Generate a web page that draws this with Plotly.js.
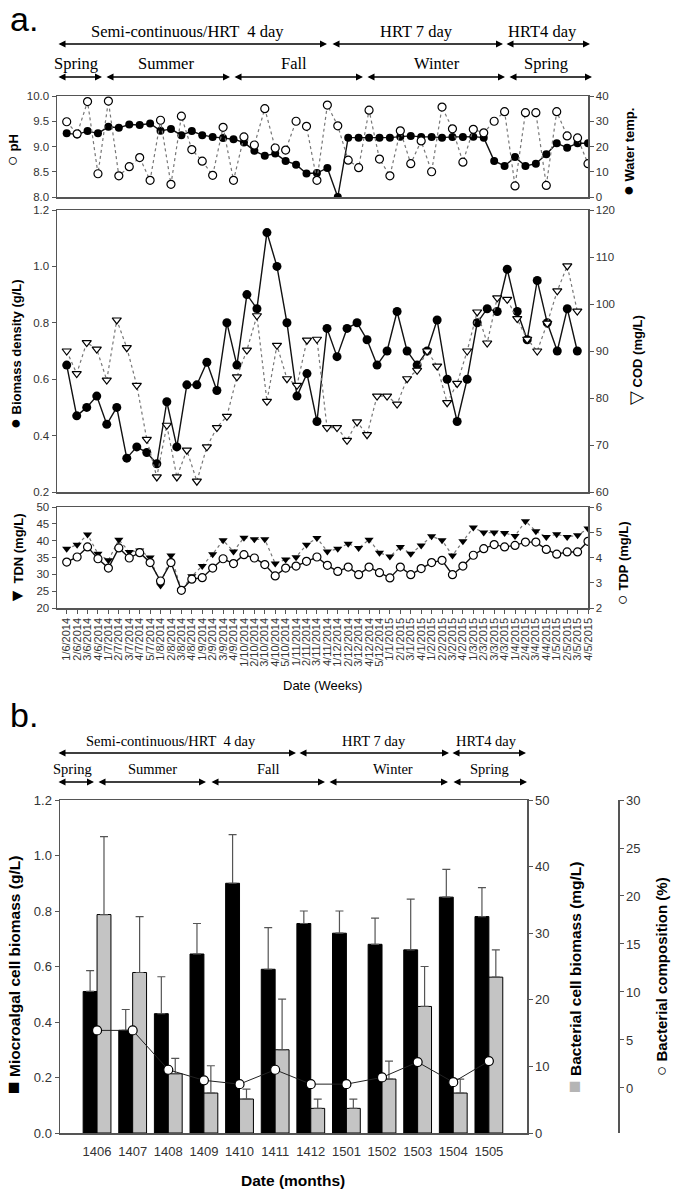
<!DOCTYPE html>
<html>
<head>
<meta charset="utf-8">
<script src="https://cdn.plot.ly/plotly-3.0.1.min.js"></script>
<style>
  html, body { margin: 0; padding: 0; background: #fff; }
  #chart { width: 675px; height: 1190px; }
</style>
</head>
<body>
<div id="chart"></div>
<script>
// ---- panel a: weekly samples ----
const weeks = [
  '1/6/2014', '2/6/2014', '3/6/2014', '4/6/2014', '1/7/2014', '2/7/2014', '3/7/2014', '4/7/2014', '5/7/2014',
  '1/8/2014', '2/8/2014', '3/8/2014', '4/8/2014', '1/9/2014', '2/9/2014', '3/9/2014', '4/9/2014',
  '1/10/2014', '2/10/2014', '3/10/2014', '4/10/2014', '5/10/2014', '1/11/2014', '2/11/2014', '3/11/2014', '4/11/2014',
  '1/12/2014', '2/12/2014', '3/12/2014', '4/12/2014', '5/12/2014', '1/1/2015', '2/1/2015', '3/1/2015', '4/1/2015',
  '1/2/2015', '2/2/2015', '3/2/2015', '4/2/2015', '1/3/2015', '2/3/2015', '3/3/2015', '4/3/2015',
  '1/4/2015', '2/4/2015', '3/4/2015', '4/4/2015', '1/5/2015', '2/5/2015', '3/5/2015', '4/5/2015'
];
const pH = [
  9.49, 9.25, 9.89, 8.46, 9.90, 8.42, 8.60, 8.78, 8.33, 9.52, 8.25, 9.60, 8.94, 8.71, 8.43, 9.38, 8.33,
  9.19, 9.03, 9.75, 8.97, 8.93, 9.50, 9.40, 8.33, 9.82, 9.41, 8.73, 8.58, 9.72, 8.75, 8.42, 9.31, 8.66,
  9.11, 8.50, 9.78, 9.35, 8.69, 9.34, 9.27, 9.50, 9.69, 8.22, 9.67, 9.67, 8.23, 9.69, 9.21, 9.17, 8.66
];
const waterTemp = [
  25.2, 24.8, 26.1, 25.2, 27.8, 27.4, 28.7, 28.5, 29.1, 26.2, 26.9, 24.5, 26.1, 24.5, 23.8, 23.4, 22.9,
  21.6, 18.3, 16.3, 17.2, 14.3, 12.8, 9.3, 9.5, 11.5, 0, 23.5, 23.5, 23.5, 23.5, 23.5, 23.9, 24.2,
  23.8, 23.8, 23.5, 23.8, 23.8, 23.9, 23.5, 14.3, 12.3, 15.8, 12.3, 13.2, 16.9, 21.3, 19.5, 21.3, 21.3
];
// biomass and COD were sampled on their own (slightly denser) weekly grid
const biomass = [
  0.65, 0.47, 0.50, 0.54, 0.44, 0.50, 0.32, 0.36, 0.34, 0.30, 0.52, 0.36, 0.58, 0.58, 0.66, 0.56, 0.80,
  0.65, 0.90, 0.85, 1.12, 1.00, 0.80, 0.54, 0.62, 0.45, 0.78, 0.68, 0.78, 0.80, 0.74, 0.65, 0.70, 0.84,
  0.70, 0.65, 0.70, 0.81, 0.60, 0.45, 0.60, 0.80, 0.85, 0.84, 0.99, 0.84, 0.74, 0.95, 0.80, 0.70, 0.85, 0.70
];
const cod = [
  90.0, 85.2, 91.8, 90.4, 83.8, 96.6, 90.7, 82.7, 71.2, 63.2, 74.2, 63.2, 68.9, 62.3, 69.6, 73.7, 76.1,
  84.5, 90.2, 97.5, 79.3, 91.2, 84.1, 82.7, 92.3, 92.5, 73.7, 73.7, 71.0, 74.9, 72.2, 80.4, 80.4, 78.7,
  84.1, 85.9, 90.0, 86.8, 79.0, 83.1, 90.0, 98.3, 91.7, 101.3, 101.0, 96.9, 92.5, 90.0, 95.9, 102.8, 108.1, 98.5
];
const tdn = [
  37.6, 38.8, 41.8, 36.1, 34.2, 40.3, 36.6, 37.1, 35.0, 26.7, 35.6, 25.3, 29.4, 32.5, 36.0, 40.1, 36.8,
  40.9, 40.4, 40.4, 33.2, 34.4, 35.1, 38.8, 40.8, 36.8, 37.6, 39.1, 37.8, 40.3, 36.4, 35.3, 38.1, 36.1,
  38.6, 41.3, 40.1, 35.6, 39.8, 43.9, 42.4, 42.4, 42.3, 41.4, 45.8, 42.8, 41.1, 41.9, 41.1, 41.6, 43.6
];
const tdp = [
  3.82, 4.02, 4.42, 3.95, 3.58, 4.38, 3.98, 4.19, 3.80, 3.07, 3.80, 2.70, 3.14, 3.20, 3.58, 3.95, 3.76,
  4.11, 3.98, 3.72, 3.27, 3.58, 3.66, 3.85, 4.02, 3.69, 3.45, 3.62, 3.32, 3.62, 3.40, 3.19, 3.62, 3.32,
  3.56, 3.80, 3.89, 3.32, 3.66, 4.09, 4.35, 4.51, 4.42, 4.48, 4.61, 4.61, 4.32, 4.13, 4.22, 4.22, 4.64
];

// ---- panel b: monthly means ----
const months = ['1406', '1407', '1408', '1409', '1410', '1411', '1412', '1501', '1502', '1503', '1504', '1505'];
const algalBiomass = [0.51, 0.37, 0.43, 0.645, 0.90, 0.59, 0.755, 0.72, 0.68, 0.66, 0.85, 0.78];
const algalSd = [0.075, 0.075, 0.133, 0.11, 0.175, 0.15, 0.045, 0.08, 0.094, 0.183, 0.10, 0.104];
const bactBiomass = [32.8, 24.1, 8.9, 6.0, 5.1, 12.5, 3.7, 3.7, 8.1, 19.0, 6.0, 23.4];
const bactSd = [11.7, 8.4, 2.3, 4.1, 1.5, 7.6, 1.4, 1.4, 2.7, 6.0, 2.1, 4.1];
const bactComp = [6.0, 6.0, 1.9, 0.8, 0.4, 1.9, 0.4, 0.4, 1.1, 2.7, 0.6, 2.8];

// header bands
const phases = ['Semi-continuous/HRT  4 day', 'HRT 7 day', 'HRT4 day'];
const seasons = ['Spring', 'Summer', 'Fall', 'Winter', 'Spring'];

// ---- geometry helpers (figure pixels -> paper) ----
const W = 675, H = 1190;
const fx = p => p / W;
const fy = p => 1 - p / H;

const FONT = 'Arial, "Liberation Sans", sans-serif';
const SERIF = '"Times New Roman", "Liberation Serif", serif';
const LINE = '#555';

const base = {
    showline: true, linecolor: LINE, linewidth: 1.5,
    showgrid: false, zeroline: false,
    ticks: 'outside', ticklen: 4, tickcolor: LINE, tickwidth: 1,
    tickfont: { family: FONT, size: 11.5, color: '#333' },
};
const baseB = { ...base, tickfont: { family: FONT, size: 13, color: '#333' } };
const noTicks = { showticklabels: false, ticks: '' };

const DX = [fx(57), fx(588)];
const idx = arr => arr.map((_, i) => i);
const zeros = arr => arr.map(() => 0);

const filled = (size, symbol) => ({ size: size, symbol: symbol || 'circle', color: '#000' });
const hollow = (size, symbol) => ({ size: size, symbol: symbol || 'circle', color: '#fff', line: { color: '#000', width: 1.2 } });
const solid = { color: '#111', width: 1.4 };
const dotted = { color: '#777', width: 1.2, dash: 'dot' };

const traces = [
    // pH panel
    { x: weeks, y: waterTemp, xaxis: 'x', yaxis: 'y', mode: 'lines+markers', line: solid, marker: filled(8) },
    { x: weeks, y: pH, xaxis: 'x', yaxis: 'y2', mode: 'lines+markers', line: dotted, marker: hollow(8) },
    // biomass / COD panel
    { x: idx(biomass), y: biomass, xaxis: 'x2', yaxis: 'y3', mode: 'lines+markers', line: solid, marker: filled(9) },
    { x: idx(cod), y: cod, xaxis: 'x2', yaxis: 'y4', mode: 'lines+markers', line: dotted, marker: hollow(8, 'triangle-down') },
    // TDN / TDP panel
    { x: weeks, y: tdn, xaxis: 'x3', yaxis: 'y5', mode: 'lines+markers', line: dotted, marker: filled(8, 'triangle-down') },
    { x: weeks, y: tdp, xaxis: 'x3', yaxis: 'y6', mode: 'lines+markers', line: solid, marker: hollow(8) },
    // panel b bars
    {
        type: 'bar', x: months, y: algalBiomass, xaxis: 'x4', yaxis: 'y7',
        width: 0.39, offset: -0.39,
        marker: { color: '#000', line: { color: '#000', width: 1 } },
        error_y: { type: 'data', symmetric: false, array: algalSd, arrayminus: zeros(algalSd), color: '#555', thickness: 1.2, width: 4 },
    },
    {
        type: 'bar', x: months, y: bactBiomass, xaxis: 'x4', yaxis: 'y8',
        width: 0.39, offset: 0,
        marker: { color: '#c4c4c4', line: { color: '#000', width: 1 } },
        error_y: { type: 'data', symmetric: false, array: bactSd, arrayminus: zeros(bactSd), color: '#555', thickness: 1.2, width: 4 },
    },
    {
        x: months, y: bactComp, xaxis: 'x4', yaxis: 'y9', mode: 'lines+markers',
        line: { color: '#222', width: 1 }, marker: hollow(9),
    },
];

// ---- annotations: headers, arrows, axis titles ----
const annotations = [];

function text(t, xPx, yPx, size, family, extra) {
    annotations.push(Object.assign({
        xref: 'paper', yref: 'paper', x: fx(xPx), y: fy(yPx),
        text: t, showarrow: false, xanchor: 'center', yanchor: 'middle',
        font: { family: family || FONT, size: size, color: '#000' },
    }, extra || {}));
}

function arrow(x0, x1, yPx) {
    annotations.push({
        xref: 'paper', yref: 'paper', x: fx(x1), y: fy(yPx),
        ax: -(x1 - x0), ay: 0, axref: 'pixel', ayref: 'pixel',
        text: '', showarrow: true, arrowside: 'end+start',
        arrowhead: 2, startarrowhead: 2, arrowsize: 1, startarrowsize: 1,
        arrowwidth: 1.4, arrowcolor: '#000',
    });
}

// rotated axis title with a bigger legend symbol in front
function vtitle(sym, t, xPx, yPx, size, symColor, symScale) {
    const s = '<span style="font-size:' + Math.round(size * (symScale || 1.35)) + 'px' +
        (symColor ? ';color:' + symColor : '') + '">' + sym + '</span>';
    text(s + ' <b>' + t + '</b>', xPx, yPx, size, FONT, { textangle: -90 });
}

// panel a header
text('a.', 8, 19, 34, FONT, { xanchor: 'left' });
[[57, 327], [331, 503], [505, 590]].forEach((s, i) => {
    arrow(s[0], s[1], 44);
    text(phases[i], [187, 416, 542][i], 31, 16.5, SERIF);
});
[[57, 102], [105, 230], [233, 363], [366, 505], [508, 592]].forEach((s, i) => {
    arrow(s[0], s[1], 77);
    text(seasons[i], [76, 166, 294, 437, 546][i], 63, 16.5, SERIF);
});

// panel b header
text('b.', 8, 715, 34, FONT, { xanchor: 'left' });
[[57, 296], [298, 449], [451, 526]].forEach((s, i) => {
    arrow(s[0], s[1], 753);
    text(phases[i], [171, 374, 486][i], 741, 14.5, SERIF);
});
[[57, 94], [97, 206], [210, 325], [328, 448], [452, 527]].forEach((s, i) => {
    arrow(s[0], s[1], 782);
    text(seasons[i], [72, 152, 268, 393, 489][i], 769, 14.5, SERIF);
});

// panel a axis titles
vtitle('○', 'pH', 12, 150, 13);
vtitle('●', 'Water temp.', 628, 152, 13);
vtitle('●', 'Biomass density (g/L)', 15, 354, 13);
vtitle('▽', 'COD (mg/L)', 636, 360, 13);
vtitle('▼', 'TDN (mg/L)', 17, 559, 13);
vtitle('○', 'TDP (mg/L)', 622, 563, 13);
text('Date (Weeks)', 322, 686, 13);

// panel b axis titles
vtitle('■', 'Miocroalgal cell biomass (g/L)', 12, 975, 15.5);
vtitle('■', 'Bacterial cell biomass (mg/L)', 573, 977, 15.5, '#b5b5b5');
vtitle('○', 'Bacterial composition (%)', 661, 977, 15, null, 1.1);
text('<b>Date (months)</b>', 293, 1180, 15.5);

const layout = {
    width: W, height: H,
    margin: { l: 0, r: 0, t: 0, b: 0 },
    paper_bgcolor: '#fff', plot_bgcolor: '#fff',
    showlegend: false,
    barmode: 'overlay',

    // pH / water temperature
    xaxis: { ...base, ...noTicks, domain: DX, anchor: 'y', type: 'category', range: [-0.93, 50], mirror: true },
    yaxis: { ...base, domain: [fy(197), fy(96)], anchor: 'x', side: 'right', range: [0, 40], dtick: 10 },
    yaxis2: { ...base, overlaying: 'y', anchor: 'x', side: 'left', range: [8, 10], dtick: 0.5, tickformat: '.1f' },

    // biomass / COD
    xaxis2: { ...base, ...noTicks, domain: DX, anchor: 'y3', range: [-0.97, 52.07], mirror: true },
    yaxis3: { ...base, domain: [fy(492), fy(210)], anchor: 'x2', range: [0.2, 1.2], dtick: 0.2, tickformat: '.1f' },
    yaxis4: { ...base, overlaying: 'y3', anchor: 'x2', side: 'right', range: [60, 120], dtick: 10 },

    // TDN / TDP
    xaxis3: {
        ...base, domain: DX, anchor: 'y5', type: 'category', range: [-0.93, 50], mirror: true,
        tickmode: 'array', tickvals: weeks, ticktext: weeks, tickangle: -90,
        tickfont: { family: FONT, size: 11, color: '#333' },
    },
    yaxis5: { ...base, domain: [fy(608), fy(507)], anchor: 'x3', range: [20, 50], dtick: 5 },
    yaxis6: { ...base, overlaying: 'y5', anchor: 'x3', side: 'right', range: [2, 6], dtick: 1 },

    // panel b
    xaxis4: {
        ...baseB, domain: [fx(60), fx(527)], anchor: 'y7', type: 'category', range: [-1.04, 12.07],
        mirror: true, ticks: '', ticklabelstandoff: 6,
    },
    yaxis7: { ...baseB, domain: [fy(1133), fy(800)], anchor: 'x4', range: [0, 1.2], dtick: 0.2, tickformat: '.1f' },
    yaxis8: { ...baseB, overlaying: 'y7', anchor: 'x4', side: 'right', range: [0, 50], dtick: 10 },
    yaxis9: { ...baseB, overlaying: 'y7', anchor: 'free', position: fx(618), side: 'right', range: [-4.69, 30], tick0: 0, dtick: 5 },

    annotations: annotations,
};

Plotly.newPlot('chart', traces, layout, { displayModeBar: false, staticPlot: true });
</script>
</body>
</html>
